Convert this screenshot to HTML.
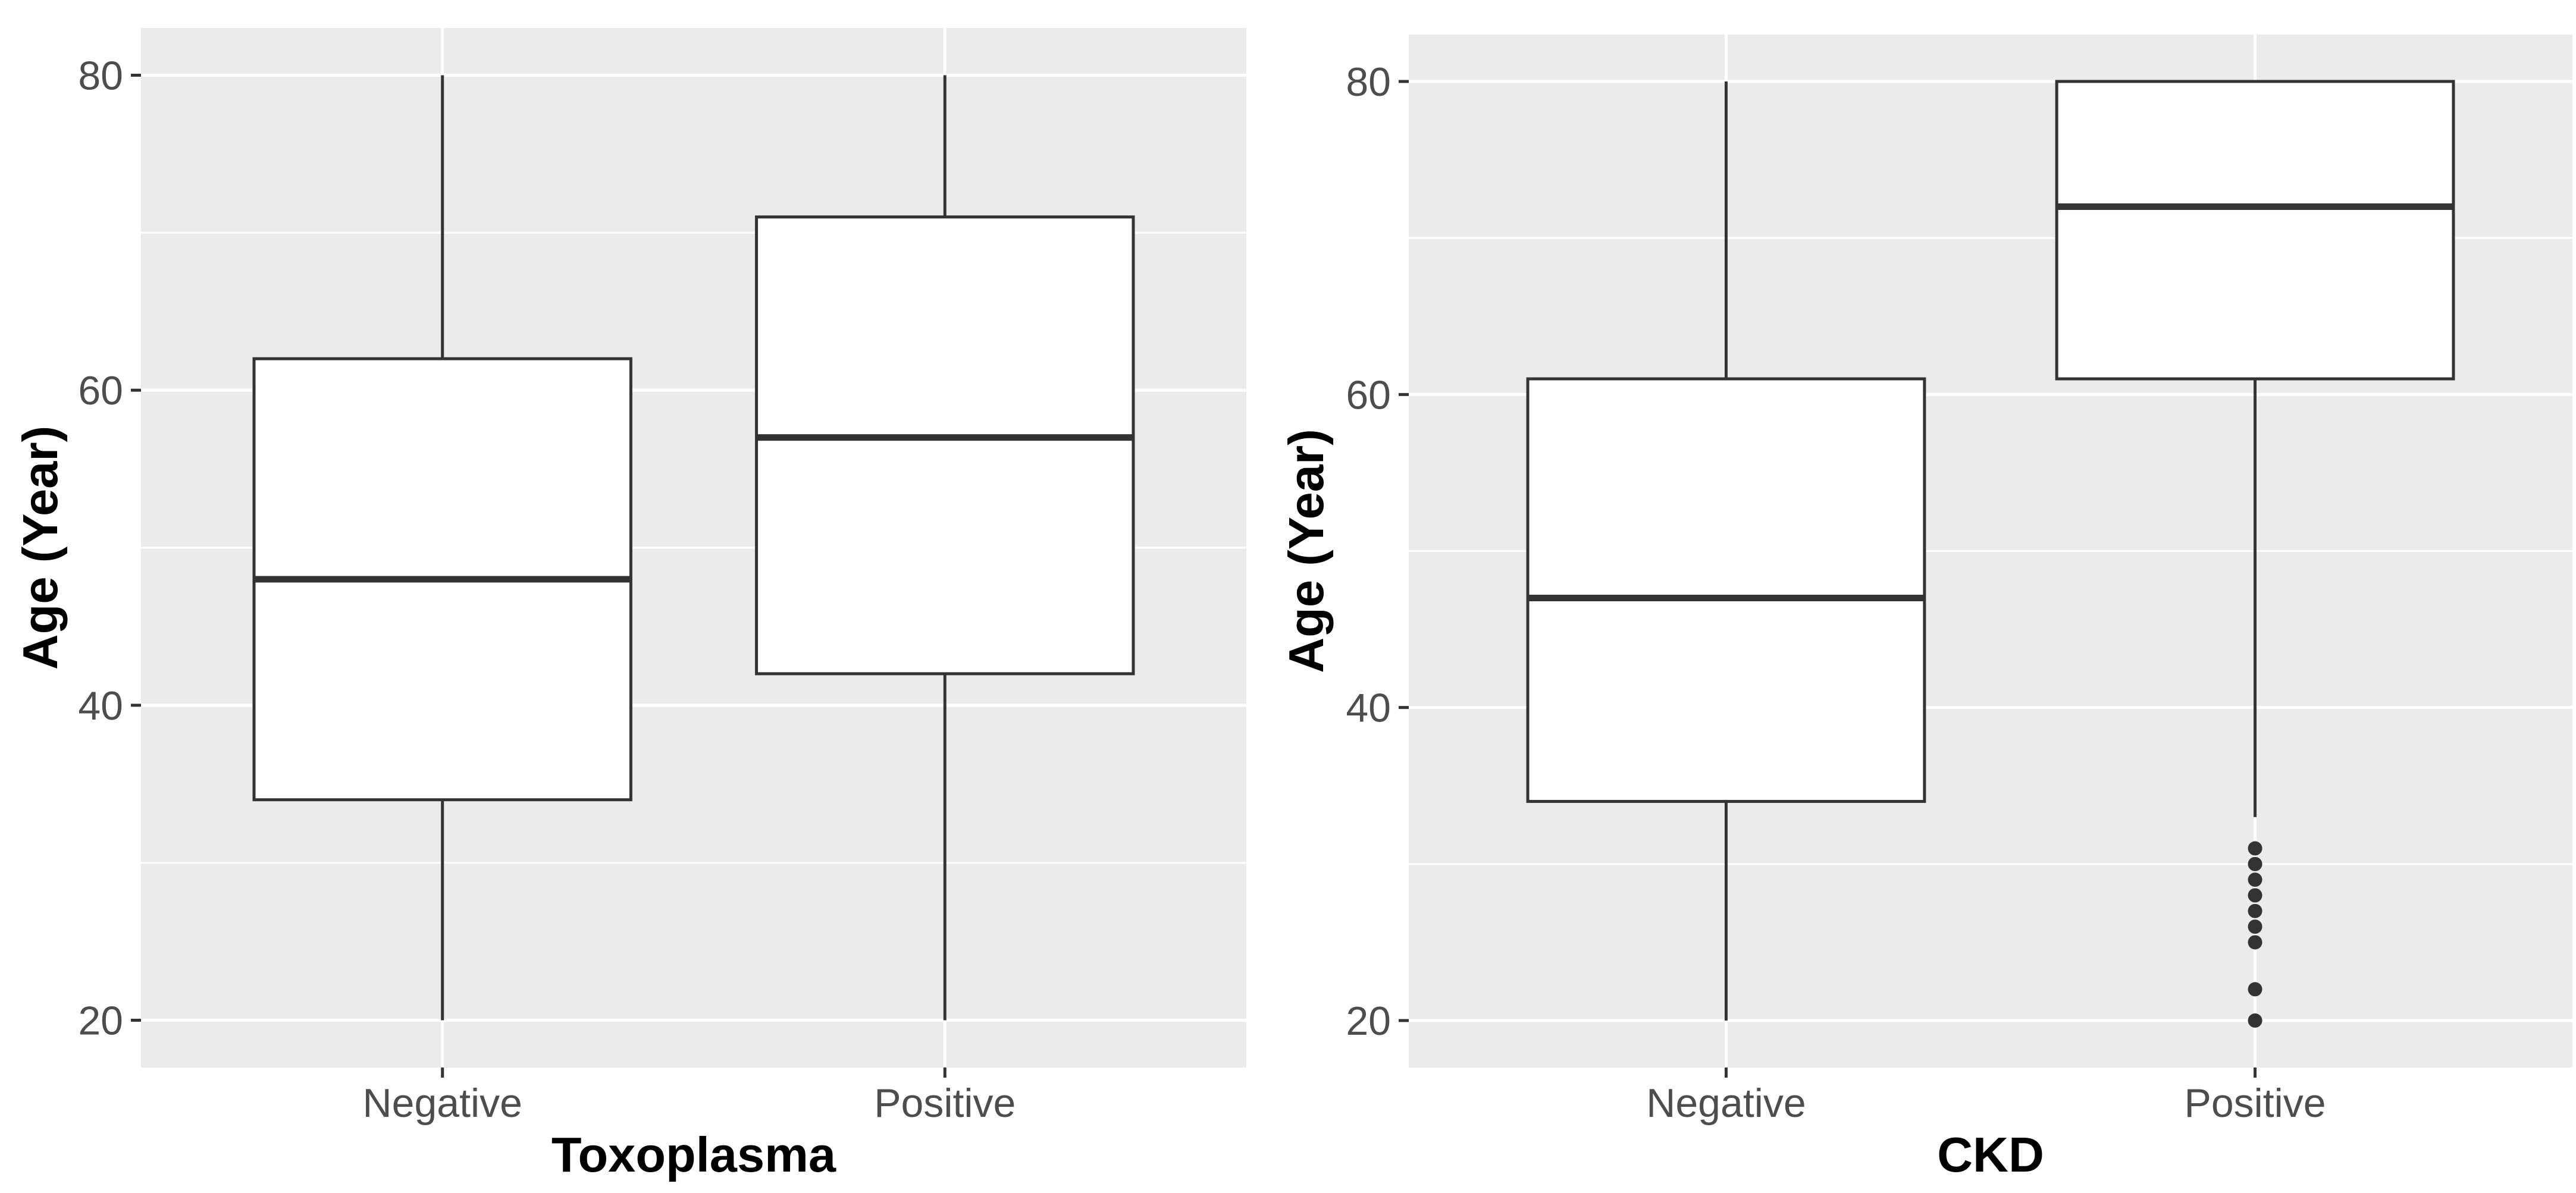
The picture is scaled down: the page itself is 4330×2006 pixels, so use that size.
<!DOCTYPE html>
<html><head><meta charset="utf-8"><style>
html,body{margin:0;padding:0;background:#fff;}
svg{display:block;}
text{font-family:"Liberation Sans",Arial,sans-serif;}
</style></head>
<body>
<svg id="chart" width="4330" height="2006" viewBox="0 0 4330 2006" xmlns="http://www.w3.org/2000/svg"></svg>
<script>
const categories = ["Negative", "Positive"];
const yTicks = [20, 40, 60, 80];
const yMinor = [30, 50, 70];
// Panel 1: Toxoplasma
const toxoLower = [20, 20];
const toxoQ1 = [34, 42];
const toxoMedian = [48, 57];
const toxoQ3 = [62, 71];
const toxoUpper = [80, 80];
const toxoOutliers = [[], []];
// Panel 2: CKD
const ckdLower = [20, 33];
const ckdQ1 = [34, 61];
const ckdMedian = [47, 72];
const ckdQ3 = [61, 80];
const ckdUpper = [80, 80];
const ckdOutliers = [[], [31, 30, 29, 28, 27, 26, 25, 22, 20]];

const NS = "http://www.w3.org/2000/svg";
const svg = document.getElementById("chart");
function mk(tag, attrs, parent) {
  const e = document.createElementNS(NS, tag);
  for (const k in attrs) e.setAttribute(k, attrs[k]);
  (parent || svg).appendChild(e);
  return e;
}

function panel(cfg) {
  const g = mk("g", {});
  
  
  const {left, right, top, bottom} = cfg;
  const yMin = 17, yMax = 83;
  const y = v => bottom - (v - yMin) / (yMax - yMin) * (bottom - top);
  const unit = (right - left) / 2.2;
  const x = i => left + (i + 0.6) * unit;
  const bg = mk("rect", {x: left, y: top, width: right - left, height: bottom - top, fill: "#ebebeb"}, g);
  
  
  yMinor.forEach(v => {
    const l = mk("line", {x1: left, x2: right, y1: y(v), y2: y(v), stroke: "#fff", "stroke-width": 3}, g);
    
    
  });
  yTicks.forEach(v => {
    const l = mk("line", {x1: left, x2: right, y1: y(v), y2: y(v), stroke: "#fff", "stroke-width": 5}, g);
    
    
    const t = mk("line", {x1: left - 17, x2: left, y1: y(v), y2: y(v), stroke: "#333", "stroke-width": 5}, g);
    
    
    const tx = mk("text", {x: left - 30, y: y(v) + 24, "font-size": 68, fill: "#4d4d4d", "text-anchor": "end"}, g);
    tx.textContent = v;
    
    
  });
  categories.forEach((c, i) => {
    const l = mk("line", {x1: x(i), x2: x(i), y1: top, y2: bottom, stroke: "#fff", "stroke-width": 5}, g);
    
    
    const t = mk("line", {x1: x(i), x2: x(i), y1: bottom, y2: bottom + 17, stroke: "#333", "stroke-width": 5}, g);
    
    
    const tx = mk("text", {x: x(i), y: bottom + 83, "font-size": 68, fill: "#4d4d4d", "text-anchor": "middle"}, g);
    tx.textContent = c;
    
    
  });
  const hw = 0.375 * unit;
  categories.forEach((c, i) => {
    const wl = mk("line", {x1: x(i), x2: x(i), y1: y(cfg.q3[i]), y2: y(cfg.upper[i]), stroke: "#333", "stroke-width": 5}, g);
    
    
    const wl2 = mk("line", {x1: x(i), x2: x(i), y1: y(cfg.q1[i]), y2: y(cfg.lower[i]), stroke: "#333", "stroke-width": 5}, g);
    
    
    const b = mk("rect", {x: x(i) - hw, y: y(cfg.q3[i]), width: 2 * hw, height: y(cfg.q1[i]) - y(cfg.q3[i]), fill: "#fff", stroke: "#333", "stroke-width": 5}, g);
    
    
    const m = mk("line", {x1: x(i) - hw, x2: x(i) + hw, y1: y(cfg.median[i]), y2: y(cfg.median[i]), stroke: "#333", "stroke-width": 11}, g);
    
    
    cfg.outliers[i].forEach(v => {
      const p = mk("circle", {cx: x(i), cy: y(v), r: 12, fill: "#333"}, g);
      
      
    });
  });
  const xt = mk("text", {x: (left + right) / 2, y: 1970, "font-size": 83, "font-weight": "bold", fill: "#000", "text-anchor": "middle"}, g);
  xt.textContent = cfg.xTitle;
  
  
  const cy = (top + bottom) / 2;
  const yt = mk("text", {x: cfg.yTitleX, y: cy, "font-size": 83, "font-weight": "bold", fill: "#000", "text-anchor": "middle", transform: `rotate(-90 ${cfg.yTitleX} ${cy})`}, g);
  yt.textContent = "Age (Year)";
  
  
}

panel({name: "toxoplasma", left: 237, right: 2095, top: 47, bottom: 1795, xTitle: "Toxoplasma", yTitleX: 96,
  lower: toxoLower, q1: toxoQ1, median: toxoMedian, q3: toxoQ3, upper: toxoUpper, outliers: toxoOutliers});
panel({name: "ckd", left: 2368, right: 4324, top: 58, bottom: 1795, xTitle: "CKD", yTitleX: 2224,
  lower: ckdLower, q1: ckdQ1, median: ckdMedian, q3: ckdQ3, upper: ckdUpper, outliers: ckdOutliers});
</script>
</body></html>
